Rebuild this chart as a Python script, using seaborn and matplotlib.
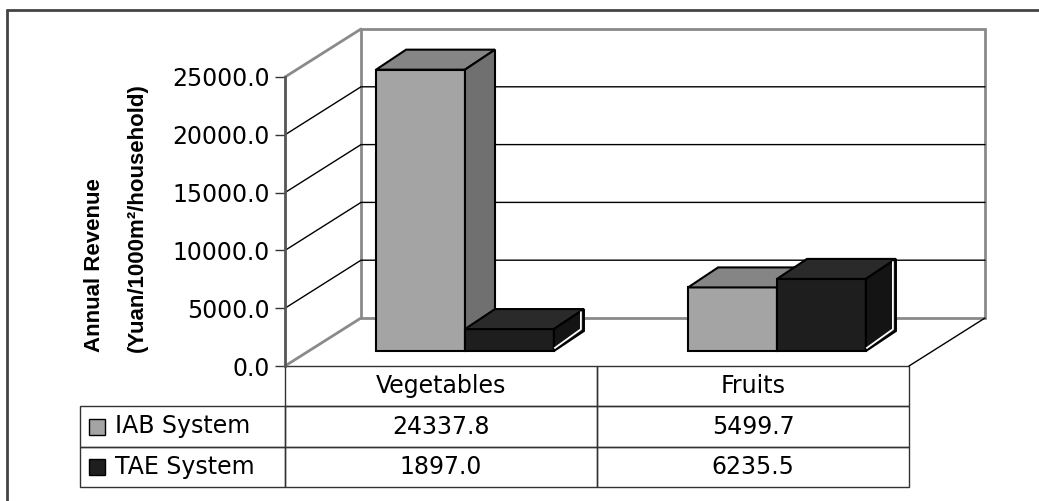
import numpy as np
import pandas as pd
import matplotlib
matplotlib.use("Agg")
import matplotlib.pyplot as plt
import seaborn as sns
from matplotlib.patches import Polygon, Rectangle
from matplotlib.lines import Line2D
from matplotlib.table import Table
from matplotlib.ticker import StrMethodFormatter

crops = ["Vegetables", "Fruits"]
systems = ["IAB System", "TAE System"]
iab_revenue = [24337.8, 5499.7]
tae_revenue = [1897.0, 6235.5]
y_ticks = [0, 5000, 10000, 15000, 20000, 25000]

# face colours (front, top, side) imitating the old dithered fills
iab_colors = ("#a4a4a4", "#858585", "#707070")
tae_colors = ("#1e1e1e", "#2a2a2a", "#141414")

W, H, DPI = 1039, 501, 100

sns.set_style("white")
plt.rcParams["font.family"] = ["DejaVu Sans"]
plt.rcParams["text.color"] = "black"
plt.rcParams["ytick.labelcolor"] = "black"

df = pd.DataFrame({
    "crop": crops * 2,
    "system": [systems[0]] * 2 + [systems[1]] * 2,
    "revenue": iab_revenue + tae_revenue,
})

fig = plt.figure(figsize=(W / DPI, H / DPI), dpi=DPI)
# the axes is the front plane of the pseudo 3-D box
ax = fig.add_axes([285 / W, (H - 366) / H, 624 / W, 289 / H])

sns.barplot(data=df, x="crop", y="revenue", hue="system", order=crops,
            hue_order=systems, palette=[iab_colors[0], tae_colors[0]],
            width=0.57, saturation=1, errorbar=None, edgecolor="black",
            linewidth=1.5, legend=False, ax=ax)

x0, x1 = -0.5, 1.5
ax.set_xlim(x0, x1)
ax.set_ylim(y_ticks[0], y_ticks[-1])


def px(dx, dy):
    """pixel offset -> data offset"""
    o = ax.transData.transform((0, 0))
    return ax.transData.inverted().transform(o + np.array([dx, dy]))


wx, wy = px(76, 48)   # depth of the box
fx, fy = px(24, 15)   # how far back the bars stand
bx, by = px(30, 20)   # depth of a bar

# walls and gridlines
wall = "#8a8a8a"
top = y_ticks[-1]
ax.add_patch(Rectangle((x0 + wx, wy), x1 - x0, top, fill=False, ec=wall,
                       lw=2, clip_on=False, zorder=1))
ax.plot([x0, x0 + wx], [top, top + wy], color=wall, lw=2, clip_on=False, zorder=1)
ax.plot([x0, x0 + wx], [0, wy], color=wall, lw=2, clip_on=False, zorder=1)
ax.plot([x1, x1 + wx], [0, wy], color="black", lw=1, clip_on=False, zorder=1)
for t in y_ticks[1:-1]:
    ax.plot([x0, x0 + wx, x1 + wx], [t, t + wy, t + wy], color="black",
            lw=1, clip_on=False, zorder=1)

# turn the flat seaborn bars into boxes
hx, hy = px(3, 3)
for k, (cont, cols) in enumerate(zip(ax.containers, [iab_colors, tae_colors])):
    z = 3 + k
    for bar in cont:
        x = bar.get_x() + fx
        w = bar.get_width()
        h = bar.get_height()
        bar.set_x(x)
        bar.set_y(fy)
        bar.set_zorder(z)
        bar.set_clip_on(False)
        ax.add_patch(Polygon([(x, h + fy), (x + w, h + fy),
                              (x + w + bx, h + fy + by), (x + bx, h + fy + by)],
                             closed=True, fc=cols[1], ec="black", lw=1.5,
                             zorder=z, clip_on=False))
        ax.add_patch(Polygon([(x + w, fy), (x + w + bx, fy + by),
                              (x + w + bx, h + fy + by), (x + w, h + fy)],
                             closed=True, fc=cols[2], ec="black", lw=1.5,
                             zorder=z, clip_on=False))
        if k == 1:
            ax.plot([x + w + hx * 0.3, x + w + bx - hx, x + w + bx - hx],
                    [fy + hy, fy + by + hy * 0.6, h + fy + by - hy],
                    color="white", lw=1.3, zorder=z, clip_on=False)

# axis cosmetics
for side in ["top", "right", "bottom"]:
    ax.spines[side].set_visible(False)
ax.spines["left"].set_color("#555555")
ax.spines["left"].set_linewidth(2)
ax.patch.set_visible(False)
ax.set_xticks([])
ax.set_xlabel("")
ax.set_ylabel("")
ax.set_yticks(y_ticks)
ax.yaxis.set_major_formatter(StrMethodFormatter("{x:.1f}"))
ax.tick_params(axis="y", length=7, width=1, color="#333333", pad=4,
               labelsize=17, labelcolor="black", left=True)

# data table under the plot
tb_left, tb_bottom = (80 - 285) / 624, -(487 - 366) / 289
tb_w, tb_h = (909 - 80) / 624, (487 - 366) / 289
tbl = Table(ax, bbox=[tb_left, tb_bottom, tb_w, tb_h])
widths = [205, 312, 312]
for c, txt in enumerate([""] + crops):
    tbl.add_cell(0, c, widths[c], 1, text=txt, loc="center",
                 edgecolor="#333333", facecolor="none")
tbl[0, 0].visible_edges = ""
for r, (name, vals) in enumerate(zip(systems, [iab_revenue, tae_revenue]), start=1):
    cell = tbl.add_cell(r, 0, widths[0], 1, text=name, loc="left",
                        edgecolor="#333333", facecolor="none")
    cell.PAD = 0.17
    for c, v in enumerate(vals, start=1):
        tbl.add_cell(r, c, widths[c], 1, text=f"{v:.1f}", loc="center",
                     edgecolor="#333333", facecolor="none")
tbl.auto_set_font_size(False)
tbl.set_fontsize(17)
for cell in tbl.get_celld().values():
    cell.get_text().set_color("black")
ax.add_table(tbl)

# legend keys inside the row-label cells
row_h = tb_h / 3
key_w, key_h = 16 / 624, 16 / 289
for r, cols in enumerate([iab_colors, tae_colors], start=1):
    cy = tb_bottom + tb_h - (r + 0.5) * row_h
    ax.add_patch(Rectangle((tb_left + 9 / 624, cy - key_h / 2), key_w, key_h,
                           transform=ax.transAxes, fc=cols[0], ec="black",
                           lw=1, clip_on=False, zorder=5))

# y label, two bold lines
fig.text(95 / W, (H - 352) / H, "Annual Revenue", rotation=90, ha="center",
         va="bottom", fontsize=16, fontweight="bold", color="black",
         family="Liberation Sans")
fig.text(137 / W, (H - 352) / H, "(Yuan/1000m\u00b2/household)", rotation=90,
         ha="center", va="bottom", fontsize=16, fontweight="bold",
         color="black", family="Liberation Sans")

# chart area frame (only left and top edges visible)
fig.add_artist(Line2D([7 / W, 7 / W], [0, 1 - 10 / H], color="#444444", lw=2))
fig.add_artist(Line2D([7 / W, 1], [1 - 10 / H, 1 - 10 / H], color="#444444", lw=2))

fig.savefig("out.png", dpi=DPI)
